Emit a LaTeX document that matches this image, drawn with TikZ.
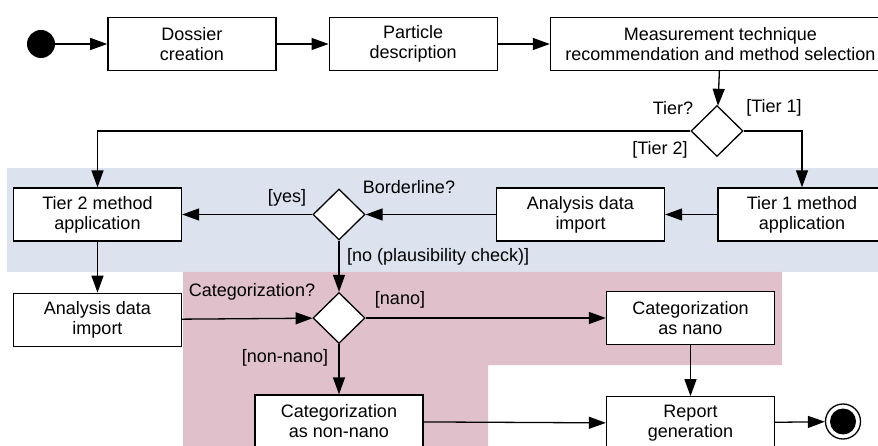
\documentclass[tikz,border=0pt]{standalone}
\usepackage{fontspec}
\setmainfont{Liberation Sans}
\usetikzlibrary{arrows.meta, positioning, shapes.geometric}
\definecolor{tierblue}{RGB}{220,227,238}
\definecolor{catpink}{RGB}{223,192,203}

\begin{document}
\begin{tikzpicture}[
    x=1pt, y=-1pt,
    node distance=51pt and 52pt,
    font=\fontsize{18}{20}\selectfont,
    box/.style={
        draw,
        line width=1.3pt,
        fill=white,
        minimum width=168pt,
        minimum height=53pt,
        inner sep=2pt,
        align=center
    },
    choice/.style={
        draw,
        diamond,
        line width=1.3pt,
        fill=white,
        minimum width=52pt,
        minimum height=51pt,
        inner sep=0pt
    },
    guard/.style={
        inner sep=0pt
    },
    arrow/.style={
        -{Triangle[length=17pt,width=12pt]},
        line width=1.3pt
    }
]

\useasboundingbox (0,0) rectangle (878,446);
\clip (0,0) rectangle (878,446);

% Zones
\fill[tierblue] (7,168) rectangle (878,272);
\fill[catpink] (183,272) -- (782,272) -- (782,365) -- (488,365)
    -- (488,446) -- (183,446) -- cycle;

% Nœuds
\node[circle, fill=black, minimum size=28pt, inner sep=0pt] (start) at (41,44) {};
\node[box, right=52pt of start] (dossier) {Dossier\\creation};
\node[box, right=of dossier] (particle) {Particle\\description};
\node[box, right=of particle, minimum width=340pt] (measure) {Measurement technique\\recommendation and method selection};
\node[choice] (tier) at (717,131) {};
\node[box] (tierone) at (802,214.5) {Tier 1 method\\application};
\node[box] (importone) at (580.5,214.5) {Analysis data\\import};
\node[choice] (border) at (339,214.5) {};
\node[box] (tiertwo) at (97.5,214.5) {Tier 2 method\\application};
\node[box, below=of tiertwo] (importtwo) {Analysis data\\import};
\node[choice] (categ) at (339,318) {};
\node[box] (nano) at (690.5,318) {Categorization\\as nano};
\node[box, below=of nano] (report) {Report\\generation};
\node[box] (nonnano) at (339,421.5) {Categorization\\as non-nano};
\node[circle, draw, line width=1.3pt, minimum size=35pt, inner sep=0pt] (stop) at (843,421.5) {};
\fill (stop.center) circle (13);

% Gardes
\node[guard] (tierq) at (673,108) {Tier?};
\node[guard] (tierlone) at (774,108) {[Tier 1]};
\node[guard] (tierltwo) at (660,150) {[Tier 2]};
\node[guard] (borderq) at (409,187) {Borderline?};
\node[guard] (yes) at (287,198) {[yes]};
\node[guard, anchor=west] (no) at (347,257) {[no (plausibility check)]};
\node[guard] (categq) at (252,292) {Categorization?};
\node[guard] (nanol) at (400,300) {[nano]};
\node[guard] (nonnanol) at (285,358) {[non-nano]};

% Flèches
\draw[arrow] (start) -- (dossier);
\draw[arrow] (dossier) -- (particle);
\draw[arrow] (particle) -- (measure);
\draw[arrow] (measure) -- (tier);
\draw[arrow] (tier.west) -| (tiertwo);
\draw[arrow] (tier.east) -| (tierone);
\draw[arrow] (tierone) -- (importone);
\draw[arrow] (importone) -- (border);
\draw[arrow] (border) -- (tiertwo);
\draw[arrow] (border) -- (categ);
\draw[arrow] (tiertwo) -- (importtwo);
\draw[arrow] (importtwo) -- (categ);
\draw[arrow] (categ) -- (nano);
\draw[arrow] (categ) -- (nonnano);
\draw[arrow] (nano) -- (report);
\draw[arrow] (nonnano) -- (report);
\draw[arrow] (report) -- (stop);

\end{tikzpicture}
\end{document}
